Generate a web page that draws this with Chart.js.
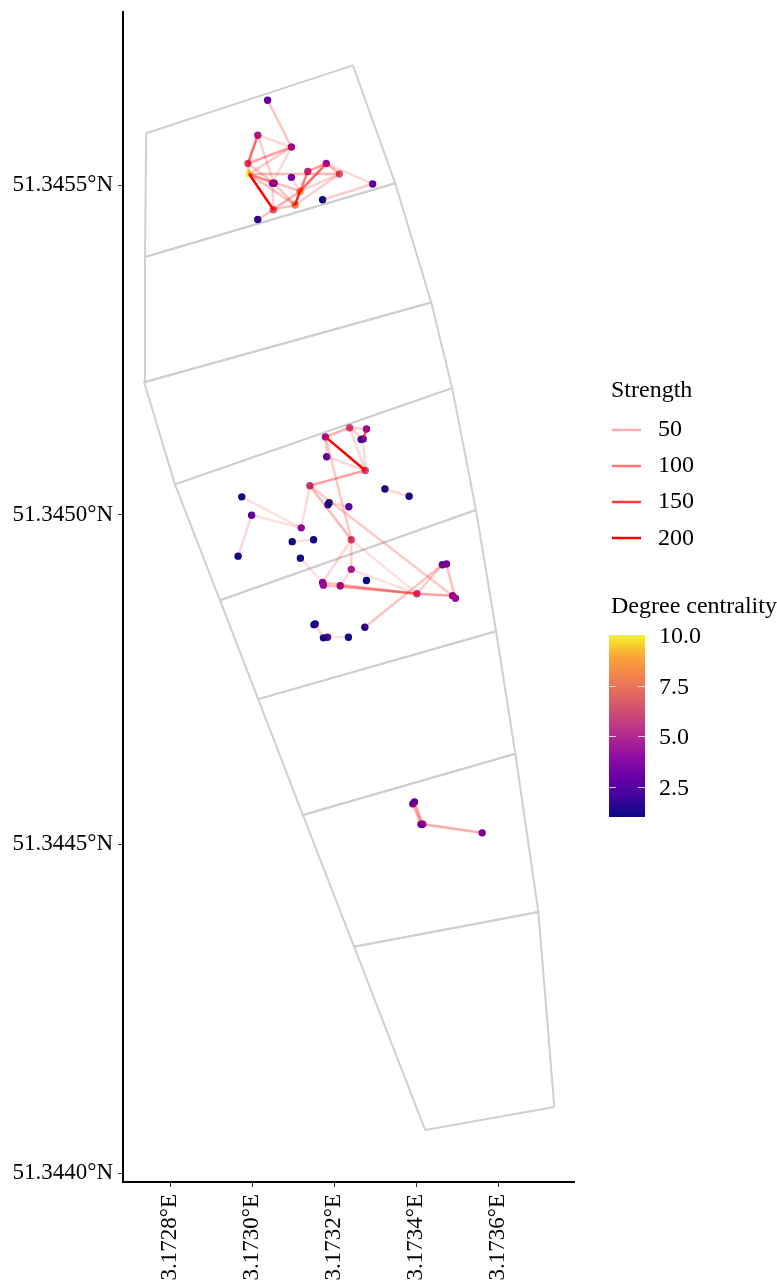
<!DOCTYPE html>
<html><head><meta charset="utf-8">
<style>html,body{margin:0;padding:0;background:#fff}canvas{display:block}</style>
<script src="https://cdn.jsdelivr.net/npm/chart.js@4"></script></head>
<body><canvas id="c" width="777" height="1282"></canvas>
<script>
const xTicks=[3.1728,3.1730,3.1732,3.1734,3.1736];
const yTicks=[51.3440,51.3445,51.3450,51.3455];
const vertexLon=[3.172742,3.173246,3.173349,3.172739,3.173437,3.172737,3.173488,3.172812,3.173546,3.172922,3.173595,3.173015,3.173642,3.173124,3.173698,3.173249,3.173737,3.173422];
const vertexLat=[51.345579,51.345682,51.345503,51.345391,51.345322,51.345201,51.345192,51.345046,51.345007,51.344870,51.344823,51.344720,51.344637,51.344544,51.344397,51.344344,51.344101,51.344066];
const cells=[[0,1,2,3],[3,2,4,5],[5,4,6,7],[7,6,8,9],[9,8,10,11],[11,10,12,13],[13,12,14,15],[15,14,16,17]];
const nodeLon=[3.173038,3.173014,3.173096,3.172990,3.172993,3.173136,3.173181,3.173213,3.173096,3.173054,3.173050,3.173294,3.173117,3.173172,3.173105,3.173052,3.173014,
3.173179,3.173238,3.173279,3.173271,3.173266,3.173182,3.173276,3.173141,3.173324,3.173383,3.172975,3.173188,3.173185,3.173236,3.172999,3.173120,3.173150,3.173098,3.173242,3.172966,3.173118,3.173242,3.173279,3.173172,3.173174,3.173215,3.173464,3.173474,3.173402,3.173489,3.173496,3.173275,3.173154,3.173151,3.173184,3.173174,3.173235,
3.173396,3.173392,3.173416,3.173412,3.173561];
const nodeLat=[51.345629,51.345576,51.345558,51.345533,51.345517,51.345521,51.345533,51.345517,51.345512,51.345503,51.345503,51.345502,51.345491,51.345478,51.345470,51.345463,51.345448,
51.345118,51.345132,51.345130,51.345115,51.345114,51.345088,51.345067,51.345044,51.345039,51.345028,51.345027,51.345018,51.345015,51.345012,51.344999,51.344980,51.344962,51.344959,51.344962,51.344937,51.344934,51.344917,51.344900,51.344897,51.344893,51.344892,51.344924,51.344925,51.344880,51.344877,51.344873,51.344829,51.344834,51.344833,51.344814,51.344813,51.344814,
51.344564,51.344561,51.344530,51.344530,51.344517];
const nodeDegree=[2.5,4.5,4,6,10,5,4,6.5,3,3,3,2.5,8.5,1,8,6.5,1.5,
4,6,4,2.5,2,2.5,6,5.5,1,1,1,1,1,2.5,2.5,3.5,1,1,6,1,1,4.5,1,3.5,4,3.5,2.5,3,5.5,3.5,4,1.5,1,1,2,1,1,
2.5,2.5,3,3,3];
const edgeFrom=[0,1,1,1,2,2,2,3,4,4,4,4,4,3,10,9,15,15,14,12,12,14,5,6,6,12,14,16,13,12,
17,18,18,19,17,17,22,18,20,23,17,24,24,24,35,35,35,28,25,27,31,31,33,37,38,38,40,41,42,45,45,48,44,43,46,49,51,52,
54,56,55];
const edgeTo=[2,3,2,9,3,4,10,4,15,9,7,12,14,9,15,14,12,14,12,6,5,5,6,7,11,7,7,15,11,8,
18,19,20,20,23,22,23,23,23,24,35,32,35,46,38,45,40,30,26,32,32,36,34,40,42,45,45,45,45,46,43,43,47,44,47,52,53,51,
56,58,57];
const edgeStrength=[30,110,12,20,60,25,12,40,200,40,40,40,35,30,20,30,45,35,150,110,60,30,60,40,12,20,20,30,25,12,
50,20,20,125,200,12,12,12,12,60,25,12,40,25,20,5,12,12,12,5,5,12,5,5,12,5,30,35,40,60,25,30,35,12,20,20,5,5,
60,50,50];
const strengthLevels=[50,100,150,200];
const colourTicks=[10.0,7.5,5.0,2.5];
const plasmaStops=['#0D0887','#41049D','#6A00A8','#8F0DA4','#B12A90','#CC4678','#E16462','#F1844B','#FCA636','#F0F921'];

const serif='"Liberation Serif"';
function hex(h){return [1,3,5].map(i=>parseInt(h.substr(i,2),16));}
function plasma(t){
  t=Math.max(0,Math.min(1,t));
  const p=t*(plasmaStops.length-1),i=Math.min(Math.floor(p),plasmaStops.length-2),f=p-i;
  const a=hex(plasmaStops[i]),b=hex(plasmaStops[i+1]);
  return 'rgb('+a.map((v,k)=>Math.round(v+(b[k]-v)*f)).join(',')+')';
}
const degColour=d=>plasma((d-1)/9);
const edgeColour=s=>'rgba(255,0,0,'+Math.min(1,0.1+0.9*s/200).toFixed(3)+')';

const datasets=[];
edgeFrom.forEach((a,i)=>{
  const b=edgeTo[i];
  datasets.push({showLine:true,order:1,pointRadius:0,borderColor:edgeColour(edgeStrength[i]),borderWidth:2.5,
    data:[{x:nodeLon[a],y:nodeLat[a]},{x:nodeLon[b],y:nodeLat[b]}]});
});
datasets.push({showLine:false,order:2,pointRadius:3.7,pointBorderWidth:0,
  pointBackgroundColor:nodeDegree.map(degColour),
  data:nodeLon.map((x,i)=>({x,y:nodeLat[i]}))});
cells.forEach(c=>{
  const loop=c.concat(c[0]);
  datasets.push({showLine:true,order:3,pointRadius:0,borderColor:'#d0d0d0',borderWidth:2,borderJoinStyle:'round',
    data:loop.map(v=>({x:vertexLon[v],y:vertexLat[v]}))});
});

const legendPlugin={id:'legendPlugin',afterDraw(chart){
  const g=chart.ctx;g.save();
  g.fillStyle='#000';g.textBaseline='alphabetic';g.textAlign='left';g.font='24px '+serif;
  g.fillText('Strength',611,397);
  const rows=[430,466,502,538];
  const base=[436,472,508,544.5];
  strengthLevels.forEach((s,i)=>{
    g.strokeStyle=edgeColour(s);g.lineWidth=2.5;
    g.beginPath();g.moveTo(612,rows[i]);g.lineTo(641,rows[i]);g.stroke();
    g.fillStyle='#000';g.fillText(String(s),658,base[i]);
  });
  g.fillText('Degree centrality',611,613);
  const top=635,bottom=817,left=609,right=645;
  const gr=g.createLinearGradient(0,bottom,0,top);
  for(let k=0;k<=40;k++)gr.addColorStop(k/40,plasma(k/40));
  g.fillStyle=gr;g.fillRect(left,top,right-left,bottom-top);
  const yOf=v=>817-(v-1)*20.2;
  g.strokeStyle='rgba(255,255,255,0.75)';g.lineWidth=1;
  colourTicks.forEach(v=>{
    const y=Math.round(yOf(v))+.5;
    if(v<10){
      g.beginPath();g.moveTo(left,y);g.lineTo(left+7,y);g.moveTo(right-7,y);g.lineTo(right,y);g.stroke();
    }
    g.fillStyle='#000';g.fillText(v.toFixed(1),659,v===10?643:y+7);
  });
  g.restore();
}};

new Chart(document.getElementById('c'),{
  type:'scatter',
  data:{datasets},
  plugins:[legendPlugin],
  options:{
    responsive:false,animation:false,
    layout:{padding:{top:12,right:203,left:0,bottom:0}},
    plugins:{legend:{display:false},tooltip:{enabled:false}},
    events:[],
    scales:{
      x:{type:'linear',min:3.1726854,max:3.173785,
        afterBuildTicks(s){s.ticks=xTicks.map(value=>({value}));},
        afterFit(s){s.height=100;s.paddingLeft=0;s.paddingRight=0;},
        border:{color:'#000',width:2},
        grid:{drawOnChartArea:false,color:'#333',tickLength:5,tickWidth:1},
        ticks:{autoSkip:false,minRotation:90,maxRotation:90,padding:7,color:'#000',font:{family:serif,size:23},
          callback:v=>v.toFixed(4)+'°E'}},
      y:{type:'linear',min:51.343987,max:51.345763,
        afterBuildTicks(s){s.ticks=yTicks.map(value=>({value}));},
        afterFit(s){s.width=123;s.paddingTop=0;s.paddingBottom=0;},
        border:{color:'#000',width:2},
        grid:{drawOnChartArea:false,color:'#333',tickLength:5,tickWidth:1},
        ticks:{autoSkip:false,padding:5,color:'#000',font:{family:serif,size:23},
          callback:v=>v.toFixed(4)+'°N'}}
    }
  }
});
</script></body></html>
